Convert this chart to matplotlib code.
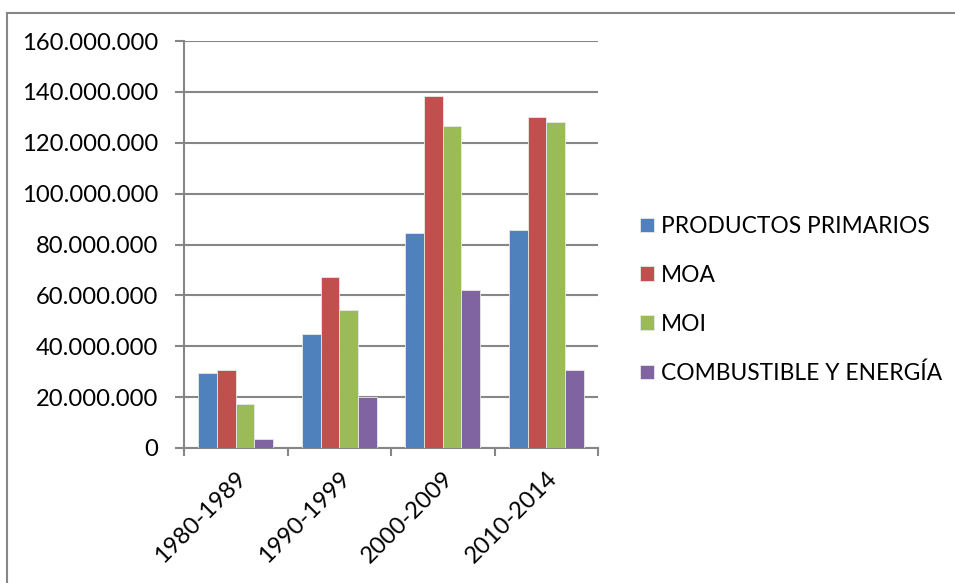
import matplotlib
matplotlib.use("Agg")
import matplotlib.pyplot as plt
from matplotlib.ticker import FuncFormatter
from matplotlib.lines import Line2D
import numpy as np

plt.rcParams['font.family'] = ['Lato', 'DejaVu Sans']

categories = ["1980-1989", "1990-1999", "2000-2009", "2010-2014"]
series_names = ["PRODUCTOS PRIMARIOS", "MOA", "MOI", "COMBUSTIBLE Y ENERGÍA"]
productos_primarios = [29.5e6, 45.0e6, 84.6e6, 85.7e6]
moa = [30.5e6, 67.2e6, 138.2e6, 130.3e6]
moi = [17.2e6, 54.2e6, 126.5e6, 128.1e6]
combustible = [3.4e6, 20.0e6, 62.0e6, 30.5e6]
colors = ["#4F81BD", "#C0504D", "#9BBB59", "#8064A2"]

W, H = 955, 583
fig = plt.figure(figsize=(W / 100, H / 100), dpi=100)
ax = fig.add_axes([184 / W, 1 - 448 / H, (598 - 184) / W, (448 - 41) / H])

x = np.arange(len(categories))
bw = 0.18
all_series = [productos_primarios, moa, moi, combustible]
handles = []
for i, (vals, name, c) in enumerate(zip(all_series, series_names, colors)):
    b = ax.bar(x + (i - 1.5) * bw, vals, width=bw, color=c, edgecolor="#E8E8E8",
               linewidth=0.6, label=name, zorder=3)
    handles.append(b)

grid_c = "#868686"
fs = 17.1
lfs = 16.4
ax.set_xlim(-0.5, len(categories) - 0.5)
ax.set_ylim(0, 160e6)
ax.set_yticks(np.arange(0, 160e6 + 1, 20e6))
ax.yaxis.set_major_formatter(FuncFormatter(lambda v, p: "0" if v == 0 else f"{int(v):,}".replace(",", ".")))
ax.grid(axis="y", color=grid_c, linewidth=1.5, zorder=0)
for s in ["top", "right"]:
    ax.spines[s].set_visible(False)
for s in ["left", "bottom"]:
    ax.spines[s].set_color(grid_c)
    ax.spines[s].set_linewidth(1.5)

ax.set_xticks(np.arange(-0.5, len(categories)), minor=False)
ax.set_xticklabels([])
ax.set_xticks(x, minor=True)
ax.set_xticklabels(categories, minor=True, rotation=45, ha="right", rotation_mode="anchor")
ax.tick_params(axis="x", which="major", length=6, width=1.5, color=grid_c, direction="out")
ax.tick_params(axis="x", which="minor", length=0, pad=14, labelsize=fs)
ax.tick_params(axis="y", length=6.5, width=1.5, color=grid_c, direction="out", pad=12, labelsize=fs)

leg = fig.legend(handles=handles, labels=series_names, loc="center left",
                 bbox_to_anchor=(631 / W, 1 - 300 / H), frameon=False, fontsize=lfs,
                 handlelength=0.62, handleheight=0.62, handletextpad=0.3,
                 labelspacing=1.22, borderaxespad=0)

# outer chart border (top and left visible)
fig.add_artist(Line2D([6.5 / W, 1.0], [1 - 12.5 / H, 1 - 12.5 / H], transform=fig.transFigure,
                      color=grid_c, linewidth=1.5))
fig.add_artist(Line2D([6.5 / W, 6.5 / W], [1 - 12.5 / H, 0], transform=fig.transFigure,
                      color=grid_c, linewidth=1.5))

fig.savefig("out.png", dpi=100)
